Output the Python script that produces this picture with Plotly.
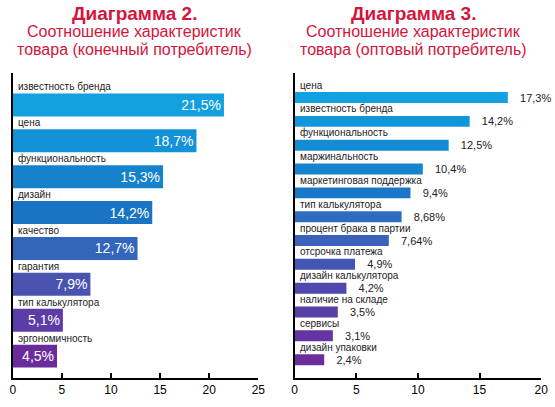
import plotly.graph_objects as go

# ---------------- data ----------------
left_categories = ["известность бренда", "цена", "функциональность", "дизайн",
                   "качество", "гарантия", "тип калькулятора", "эргономичность"]
left_values = [21.5, 18.7, 15.3, 14.2, 12.7, 7.9, 5.1, 4.5]

right_categories = ["цена", "известность бренда", "функциональность", "маржинальность",
                    "маркетинговая поддержка", "тип калькулятора", "процент брака в партии",
                    "отсрочка платежа", "дизайн калькулятора", "наличие на складе",
                    "сервисы", "дизайн упаковки"]
right_values = [17.3, 14.2, 12.5, 10.4, 9.4, 8.68, 7.64, 4.9, 4.2, 3.5, 3.1, 2.4]

left_ticks = [0, 5, 10, 15, 20, 25]
right_ticks = [0, 5, 10, 15, 20]

left_title = ["Диаграмма 2.", "Соотношение характеристик", "товара (конечный потребитель)"]
right_title = ["Диаграмма 3.", "Соотношение характеристик", "товара (оптовый потребитель)"]

# ---------------- style ----------------
left_colors = ["#12a0e0", "#1392d8", "#1682cc", "#1a74c4", "#3366bb", "#4854b0", "#5c3ca6", "#6a2c9c"]
right_colors = ["#11a0e0", "#1296da", "#148cd4", "#1782ce", "#1a78c8", "#2e6cc0",
                "#3a62ba", "#4456b4", "#5048ae", "#5a3ea8", "#6434a2", "#6c2c9c"]
RED = "#d4143c"
FONT = "Liberation Sans, Arial, sans-serif"
W, H = 555, 407


def fmt(v):
    return str(v).replace(".", ",") + "%"


fig = go.Figure()

fig.add_trace(go.Bar(
    x=left_values, y=left_categories, orientation="h",
    marker=dict(color=left_colors, line=dict(width=0)),
    text=[fmt(v) for v in left_values], textposition="inside",
    insidetextanchor="end", constraintext="none",
    insidetextfont=dict(color="white", size=14, family=FONT),
    xaxis="x", yaxis="y", hoverinfo="skip",
))

fig.add_trace(go.Bar(
    x=right_values, y=right_categories, orientation="h",
    marker=dict(color=right_colors, line=dict(width=0)),
    text=["   " + fmt(v) for v in right_values], textposition="outside",
    constraintext="none", cliponaxis=False, width=0.46,
    outsidetextfont=dict(color="#222222", size=11, family=FONT),
    xaxis="x2", yaxis="y2", hoverinfo="skip",
))

y_bottom = 1 - 378 / H
y_top = 1 - 73 / H

axis_common = dict(showgrid=False, zeroline=False, showline=True, linecolor="black",
                   linewidth=2, ticks="inside", ticklen=5, tickwidth=2, tickcolor="black",
                   tickfont=dict(size=12, color="black", family=FONT), fixedrange=True)

fig.update_layout(
    width=W, height=H, margin=dict(l=0, r=0, t=0, b=0),
    paper_bgcolor="white", plot_bgcolor="white", showlegend=False,
    bargap=0.36,
    xaxis=dict(domain=[10 / W, 260 / W], range=[0, 25], tickvals=left_ticks,
               anchor="y", **axis_common),
    yaxis=dict(domain=[y_bottom, y_top], range=[7.61, -0.89], showticklabels=False,
               showgrid=False, zeroline=False, showline=True, linecolor="black",
               linewidth=2, ticks="", anchor="x", fixedrange=True),
    xaxis2=dict(domain=[297 / W, 548 / W], range=[0, 20], tickvals=right_ticks,
                anchor="y2", **axis_common),
    yaxis2=dict(domain=[y_bottom, y_top], range=[11.77, -1.03], showticklabels=False,
                showgrid=False, zeroline=False, showline=True, linecolor="black",
                linewidth=2, ticks="", anchor="x2", fixedrange=True),
)

annotations = []
for cat in left_categories:
    annotations.append(dict(x=0, y=cat, xref="x", yref="y", text=cat, showarrow=False,
                            xanchor="left", yanchor="middle", xshift=3, yshift=18,
                            font=dict(size=10, color="#222222", family=FONT)))
for cat in right_categories:
    annotations.append(dict(x=0, y=cat, xref="x2", yref="y2", text=cat, showarrow=False,
                            xanchor="left", yanchor="middle", xshift=3, yshift=12.5,
                            font=dict(size=10, color="#222222", family=FONT)))

for cx, lines in ((134, left_title), (418, right_title)):
    annotations.append(dict(x=cx / W, y=1 - 14 / H, xref="paper", yref="paper",
                            text="<b>" + lines[0] + "</b>", showarrow=False,
                            xanchor="center", yanchor="middle",
                            font=dict(size=19, color=RED, family=FONT)))
    annotations.append(dict(x=cx / W, y=1 - 32 / H, xref="paper", yref="paper",
                            text=lines[1], showarrow=False, xanchor="center", yanchor="middle",
                            font=dict(size=16, color=RED, family=FONT)))
    annotations.append(dict(x=cx / W, y=1 - 49.5 / H, xref="paper", yref="paper",
                            text=lines[2], showarrow=False, xanchor="center", yanchor="middle",
                            font=dict(size=16, color=RED, family=FONT)))

fig.update_layout(annotations=annotations)

fig.write_html("out.html")
